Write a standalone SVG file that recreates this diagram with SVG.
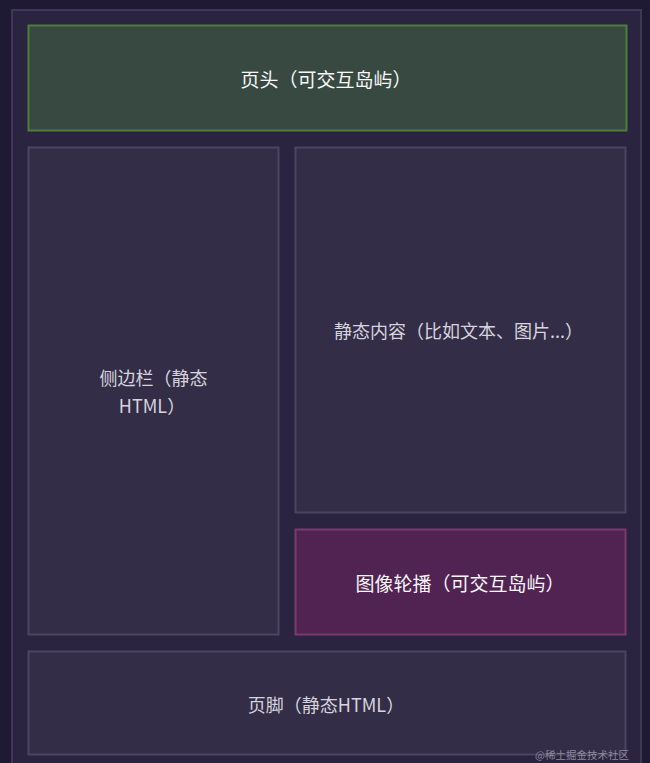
<svg xmlns="http://www.w3.org/2000/svg" width="650" height="763" viewBox="0 0 650 763">
<style>
.box{fill:#342d48;stroke:#4a4562;stroke-width:2}
.lbl{font-family:"PingFang SC","Noto Sans CJK SC",sans-serif;font-size:18px;text-anchor:middle;dominant-baseline:central;fill:#d6d4de}
.hi{fill:#f8f8fa;font-size:19px}
</style>
<rect x="0" y="0" width="650" height="763" fill="#1e1a33"/>
<g id="page">
<rect x="12" y="10" width="629" height="770" fill="#2a2440" stroke="#3e3856" stroke-width="2"/>
</g>
<g id="header">
<rect x="28.5" y="25.5" width="598" height="105" fill="#374940" stroke="#4f7d3a" stroke-width="2"/>
<text class="lbl hi" x="326" y="78">页头（可交互岛屿）</text>
</g>
<g id="sidebar">
<rect class="box" x="28.5" y="147.5" width="250" height="487"/>
<text class="lbl" x="153.5" y="377">侧边栏（静态</text>
<text class="lbl" x="152" y="405">HTML）</text>
</g>
<g id="content">
<rect class="box" x="295.5" y="147.5" width="330" height="365"/>
<text class="lbl" x="458.5" y="330">静态内容（比如文本、图片...）</text>
</g>
<g id="carousel">
<rect x="295.5" y="529.5" width="330" height="105" fill="#512352" stroke="#7a3a6c" stroke-width="2"/>
<text class="lbl hi" x="460" y="582">图像轮播（可交互岛屿）</text>
</g>
<g id="footer">
<rect class="box" x="28.5" y="651.5" width="597" height="103"/>
<text class="lbl" x="326" y="704">页脚（静态HTML）</text>
</g>
<g id="connectors"></g>
<text x="629" y="759" font-family="'Noto Sans CJK SC',sans-serif" font-size="10.5" text-anchor="end" fill="#8d8a9c">@稀土掘金技术社区</text>
</svg>
